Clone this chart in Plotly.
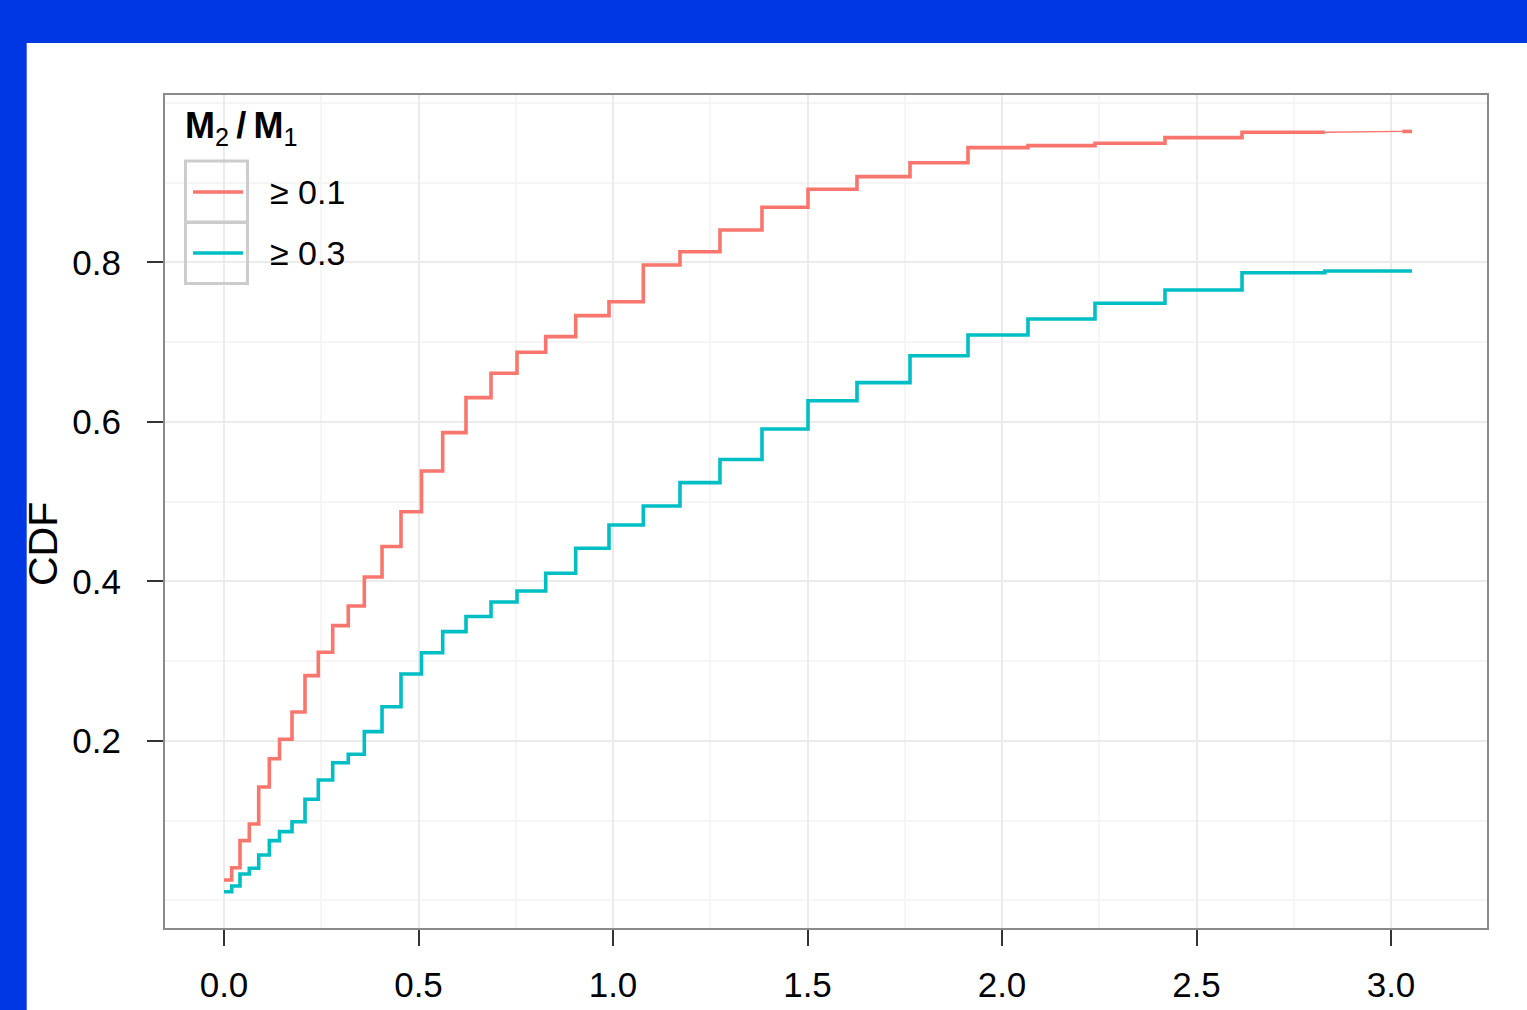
import plotly.graph_objects as go

# ---- data ----
step_x = [0.0, 0.0198, 0.0411, 0.065, 0.0892, 0.1165, 0.1427, 0.1748, 0.2082, 0.2424,
          0.2794, 0.3195, 0.3607, 0.4062, 0.455, 0.5077, 0.5622, 0.6221, 0.6864, 0.7532,
          0.827, 0.9041, 0.9897, 1.0779, 1.1722, 1.275, 1.383, 1.5013, 1.6272, 1.7635,
          1.9126, 2.0668, 2.2391, 2.419, 2.617, 2.830]
x_end = 3.054

cdf_01 = [0.0257, 0.0411, 0.075, 0.0959, 0.1423, 0.1778, 0.2021, 0.2364, 0.2819, 0.3112,
          0.3446, 0.3693, 0.4056, 0.4439, 0.4875, 0.5386, 0.5866, 0.6305, 0.6611, 0.6874,
          0.7070, 0.7333, 0.7508, 0.7969, 0.8135, 0.8408, 0.8692, 0.8918, 0.9076, 0.9251,
          0.9440, 0.9465, 0.9495, 0.9565, 0.9633, 0.9643]
cdf_03 = [0.0110, 0.0182, 0.0332, 0.0404, 0.0571, 0.0750, 0.0863, 0.0988, 0.1269, 0.1511,
          0.1728, 0.1833, 0.2117, 0.2430, 0.2840, 0.3107, 0.3371, 0.3561, 0.3743, 0.3881,
          0.4103, 0.4416, 0.4708, 0.4947, 0.5239, 0.5530, 0.5912, 0.6267, 0.6493, 0.6831,
          0.7091, 0.7292, 0.7488, 0.7655, 0.7872, 0.7893]

series_names = ["≥ 0.1", "≥ 0.3"]
legend_title = "<b>M</b><sub>2</sub><b>\u2009/\u2009M</b><sub>1</sub>"
y_title = "CDF"
x_ticks = [0.0, 0.5, 1.0, 1.5, 2.0, 2.5, 3.0]
x_ticktext = ["0.0", "0.5", "1.0", "1.5", "2.0", "2.5", "3.0"]
y_ticks = [0.2, 0.4, 0.6, 0.8]
y_ticktext = ["0.2", "0.4", "0.6", "0.8"]
x_minor = [0.25, 0.75, 1.25, 1.75, 2.25, 2.75, 3.25]
y_minor = [0.0, 0.1, 0.3, 0.5, 0.7, 0.9, 1.0]

RED = "#F8766D"
CYAN = "#00BFC4"
BLUE = "#0037E5"
FONT = "Liberation Sans, Arial, sans-serif"

W, H = 1527, 1010
L, R, T, B = 165, 1487, 95, 928   # plot area in px


def px(x):
    return (x - L) / (R - L)


def py(y):
    return (B - y) / (B - T)


fig = go.Figure()

# red: thick steps up to the last step, then a thin tail (as in the reference)
fig.add_trace(go.Scatter(x=step_x, y=cdf_01[:-1] + [cdf_01[-2]],
                         mode="lines", line=dict(color=RED, width=3.6, shape="hv"),
                         showlegend=False, hoverinfo="skip"))
fig.add_trace(go.Scatter(x=[step_x[-1], x_end - 0.025], y=[cdf_01[-2], cdf_01[-1]],
                         mode="lines", line=dict(color=RED, width=1.3),
                         showlegend=False, hoverinfo="skip"))
fig.add_trace(go.Scatter(x=[x_end - 0.025, x_end], y=[cdf_01[-1], cdf_01[-1]],
                         mode="lines", line=dict(color=RED, width=3.6),
                         showlegend=False, hoverinfo="skip"))
# cyan
fig.add_trace(go.Scatter(x=step_x + [x_end], y=cdf_03 + [cdf_03[-1]],
                         mode="lines", line=dict(color=CYAN, width=3.6, shape="hv"),
                         showlegend=False, hoverinfo="skip"))

axis_common = dict(
    showline=True, linecolor="#8a8a8a", linewidth=2, mirror=True,
    ticks="outside", ticklen=16, tickwidth=2, tickcolor="#333333",
    showgrid=True, gridcolor="#ebebeb", gridwidth=2,
    zeroline=False,
    tickfont=dict(family=FONT, size=35, color="#000000"),
)

fig.update_xaxes(range=[-0.1517, 3.2468], tickvals=x_ticks, ticktext=x_ticktext,
                 minor=dict(tickvals=x_minor, showgrid=True, gridcolor="#f5f5f5", gridwidth=2, ticks=""),
                 ticklabelstandoff=9, **axis_common)
fig.update_yaxes(range=[-0.0345, 1.0100], tickvals=y_ticks, ticktext=y_ticktext,
                 minor=dict(tickvals=y_minor, showgrid=True, gridcolor="#f5f5f5", gridwidth=2, ticks=""),
                 ticklabelstandoff=19, **axis_common)

shapes = []
annotations = []
# blue frame in margins
shapes.append(dict(type="rect", xref="paper", yref="paper", x0=px(-10), x1=px(W + 10),
                   y0=py(43), y1=py(-10), fillcolor=BLUE, line=dict(width=0), layer="above"))
shapes.append(dict(type="rect", xref="paper", yref="paper", x0=px(-10), x1=px(26.7),
                   y0=py(W), y1=py(-10), fillcolor=BLUE, line=dict(width=0), layer="above"))

# y axis title
annotations.append(dict(xref="paper", yref="paper", x=px(43), y=py(544), xanchor="center", yanchor="middle",
                        text=y_title, textangle=-90, showarrow=False,
                        font=dict(family=FONT, size=41, color="#000000")))

# manual legend (inside plot, top-left)
annotations.append(dict(xref="paper", yref="paper", x=px(183), y=py(128), xanchor="left", yanchor="middle",
                        text=legend_title, showarrow=False,
                        font=dict(family=FONT, size=36, color="#000000")))
key_rows = [192, 253]
colors = [RED, CYAN]
for row, col, name in zip(key_rows, colors, series_names):
    shapes.append(dict(type="rect", xref="paper", yref="paper", x0=px(185.5), x1=px(247.5),
                       y0=py(row + 30.5), y1=py(row - 31), line=dict(color="#cccccc", width=3),
                       fillcolor="rgba(0,0,0,0)", layer="above"))
    shapes.append(dict(type="line", xref="paper", yref="paper", x0=px(193), x1=px(243),
                       y0=py(row), y1=py(row), line=dict(color=col, width=3.6), layer="above"))
    annotations.append(dict(xref="paper", yref="paper", x=px(268), y=py(row), xanchor="left", yanchor="middle",
                            text=name, showarrow=False,
                            font=dict(family=FONT, size=34, color="#000000")))

fig.update_layout(
    width=W, height=H,
    margin=dict(l=L, r=W - R, t=T, b=H - B, autoexpand=False),
    paper_bgcolor="#ffffff", plot_bgcolor="#ffffff",
    showlegend=False,
    shapes=shapes, annotations=annotations,
)

fig.write_html(
    "out.html",
    config={"displayModeBar": False},
    post_script="document.body.style.margin='0';document.body.style.overflow='hidden';"
                "document.body.style.background='" + BLUE + "';",
)
